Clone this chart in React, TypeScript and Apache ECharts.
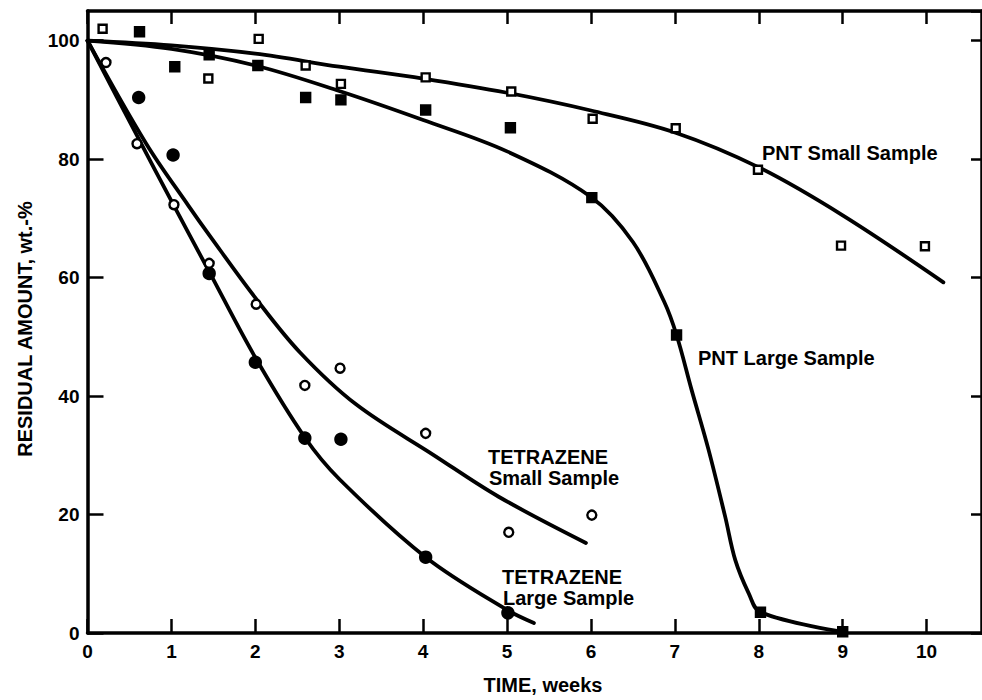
import React, { useEffect, useRef } from "react";
import * as echarts from "echarts";

// ---- data (x = weeks, y = residual amount wt.-%) ----
const pntSmallPoints = [
  [0.18, 102.0], [1.44, 93.6], [2.04, 100.3], [2.6, 95.8], [3.02, 92.7], [4.03, 93.8],
  [5.05, 91.4], [6.02, 86.8], [7.01, 85.2], [7.99, 78.2], [8.98, 65.4], [9.98, 65.3],
];
const pntLargePoints = [
  [0.62, 101.5], [1.04, 95.6], [1.45, 97.6], [2.03, 95.8], [2.6, 90.4], [3.02, 90.0],
  [4.03, 88.3], [5.04, 85.3], [6.01, 73.5], [7.02, 50.3], [8.02, 3.5], [9.0, 0.2],
];
const tetSmallPoints = [
  [0.22, 96.3], [0.59, 82.6], [1.03, 72.3], [1.45, 62.4], [2.01, 55.5], [2.59, 41.8],
  [3.01, 44.7], [4.03, 33.7], [5.02, 17.0], [6.01, 19.9],
];
const tetLargePoints = [
  [0.61, 90.4], [1.02, 80.7], [1.45, 60.7], [2.0, 45.7], [2.59, 32.9], [3.02, 32.7],
  [4.03, 12.8], [5.01, 3.4],
];

const pntSmallCurve = [
  [0, 100], [1, 99.2], [2, 97.8], [3, 95.6], [4, 93.6], [5, 91.2], [6, 88.2],
  [7, 84.5], [8, 78.6], [9, 70.5], [10.2, 59.2],
];
const pntLargeCurve = [
  [0, 100], [1, 98.6], [2, 95.8], [3, 91.5], [4, 86.6], [5, 81.3], [6, 73.6],
  [6.5, 66], [6.87, 56], [7.02, 50.3], [7.2, 41], [7.4, 31], [7.6, 19.6],
  [7.72, 12.3], [7.88, 6.7], [8.02, 3.5], [9, 0.2],
];
const tetSmallCurve = [
  [0, 100], [0.7, 82.6], [1.2, 72.2], [1.46, 67], [2.01, 56.4], [2.53, 47.4],
  [3.2, 38.6], [4.13, 30], [4.9, 23], [5.94, 15.2],
];
const tetLargeCurve = [
  [0, 100], [0.57, 84.5], [1.02, 72.4], [1.45, 61], [2.0, 46.5], [2.59, 33],
  [3.0, 26.0], [4.03, 12.8], [5.0, 3.9], [5.32, 1.7],
];

const xMin = 0;
const xMax = 10.66;
const xStep = 1;
const yMin = 0;
const yMax = 105;
const yStep = 20;

const xTitle = "TIME, weeks";
const yTitle = "RESIDUAL AMOUNT, wt.-%";
const labels = [
  { text: "PNT Small Sample", x: 762, y: 153 },
  { text: "PNT Large Sample", x: 698, y: 358 },
  { text: "TETRAZENE", x: 488, y: 457 },
  { text: "Small Sample", x: 489, y: 478 },
  { text: "TETRAZENE", x: 502, y: 577 },
  { text: "Large Sample", x: 503, y: 598 },
];

const FONT = '"Liberation Sans", Arial, Helvetica, sans-serif';

function axisCommon(extra: any) {
  return {
    type: "value",
    splitLine: { show: false },
    axisLine: { show: true, onZero: false, lineStyle: { color: "#000", width: 3.5 } },
    axisTick: { show: true, inside: true, length: 14, lineStyle: { color: "#000", width: 2.5 } },
    ...extra,
  };
}

export default function App() {
  const ref = useRef<HTMLDivElement>(null);
  useEffect(() => {
    const chart = echarts.init(ref.current!, null, { renderer: "svg" });
    const lineSeries = (data: number[][]) => ({
      type: "line",
      data,
      smooth: 0.35,
      showSymbol: false,
      silent: true,
      z: 2,
      lineStyle: { color: "#000", width: 3.8, cap: "round", join: "round" },
    });
    const scatter = (data: number[][], symbol: string, size: number, filled: boolean) => ({
      type: "scatter",
      data,
      symbol,
      symbolSize: size,
      z: 3,
      silent: true,
      itemStyle: {
        color: filled ? "#000" : "#fff",
        borderColor: "#000",
        borderWidth: 2.4,
        opacity: 1,
      },
    });
    const labelStyle = {
      color: "#000",
      fontFamily: FONT,
      fontWeight: "bold",
      fontSize: 19,
    };
    chart.setOption({
      animation: false,
      backgroundColor: "#fff",
      grid: { left: 87.5, right: -2, top: 11, bottom: 67, containLabel: false },
      xAxis: [
        axisCommon({
          position: "bottom",
          min: xMin, max: xMax, interval: xStep,
          axisLabel: { ...labelStyle, margin: 9, showMaxLabel: false },
        }),
        axisCommon({
          position: "top",
          min: xMin, max: xMax, interval: xStep,
          axisTick: { show: true, inside: true, length: 13, lineStyle: { color: "#000", width: 2.5 } },
          axisLabel: { show: false },
        }),
      ],
      yAxis: [
        axisCommon({
          position: "left",
          min: yMin, max: yMax, interval: yStep,
          axisTick: { show: true, inside: true, length: 16, lineStyle: { color: "#000", width: 2.5 } },
          axisLabel: { ...labelStyle, margin: 8, showMaxLabel: false },
        }),
        axisCommon({
          position: "right",
          min: yMin, max: yMax, interval: yStep,
          axisTick: { show: true, inside: true, length: 11, lineStyle: { color: "#000", width: 2.5 } },
          axisLabel: { show: false },
        }),
      ],
      series: [
        lineSeries(pntSmallCurve),
        lineSeries(pntLargeCurve),
        lineSeries(tetSmallCurve),
        lineSeries(tetLargeCurve),
        scatter(pntSmallPoints, "rect", 8, false),
        scatter(pntLargePoints, "rect", 9, true),
        scatter(tetSmallPoints, "circle", 9, false),
        scatter(tetLargePoints, "circle", 11, true),
      ],
      graphic: [
        ...labels.map((l) => ({
          type: "text",
          x: l.x,
          y: l.y,
          silent: true,
          z: 10,
          style: {
            text: l.text,
            font: `bold 20px ${FONT}`,
            fill: "#000",
            textAlign: "left",
            textVerticalAlign: "middle",
            align: "left",
            verticalAlign: "middle",
          },
        })),
        {
          type: "text",
          x: 543,
          y: 685,
          silent: true,
          style: {
            text: xTitle,
            font: `bold 20px ${FONT}`,
            fill: "#000",
            textAlign: "center",
            textVerticalAlign: "middle",
            align: "center",
            verticalAlign: "middle",
          },
        },
        {
          type: "text",
          x: 25,
          y: 329,
          rotation: Math.PI / 2,
          silent: true,
          style: {
            text: yTitle,
            font: `bold 20px ${FONT}`,
            fill: "#000",
            textAlign: "center",
            textVerticalAlign: "middle",
            align: "center",
            verticalAlign: "middle",
          },
        },
      ],
    });
    return () => chart.dispose();
  }, []);
  return (
    <div
      ref={ref}
      style={{ position: "fixed", left: 0, top: 0, width: 982, height: 700, background: "#fff" }}
    />
  );
}
